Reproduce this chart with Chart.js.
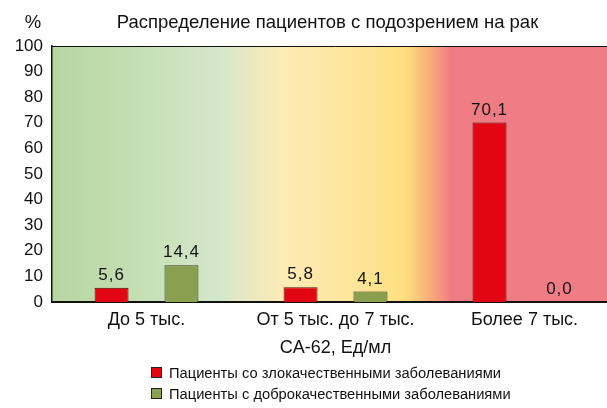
<!DOCTYPE html>
<html>
<head>
<meta charset="utf-8">
<script src="https://cdn.jsdelivr.net/npm/chart.js@4.4.1/dist/chart.umd.min.js"></script>
<style>
  html, body { margin: 0; padding: 0; overflow: hidden; background: #fff; }
  #wrap { position: relative; width: 607px; height: 408px; overflow: hidden; }
  #legend { position: absolute; left: 151px; top: 362px; font-family: "Liberation Sans", Arial, sans-serif; font-size: 14.7px; color: #111; }
  #legend div { height: 21px; line-height: 16px; display: flex; align-items: center; }
  #legend span.box { display: inline-block; width: 9px; height: 9px; border: 1px solid #222; margin-right: 7px; }
</style>
</head>
<body>
<div id="wrap">
  <canvas id="bar-chart" width="619" height="408"></canvas>
  <div id="legend"></div>
</div>
<script>
var categories = ["До 5 тыс.", "От 5 тыс. до 7 тыс.", "Более 7 тыс."];
var malignant = [5.6, 5.8, 70.1];
var benign = [14.4, 4.1, 0.0];
var seriesNames = ["Пациенты со злокачественными заболеваниями", "Пациенты с доброкачественными заболеваниями"];
var yTicks = [0, 10, 20, 30, 40, 50, 60, 70, 80, 90, 100];

var FONT = '"Liberation Sans", Arial, sans-serif';

// gradient background behind the plot + top border + heading
var backdrop = {
  id: 'backdrop',
  beforeDraw: function(chart) {
    var c = chart.ctx, a = chart.chartArea;
    var g = c.createLinearGradient(a.left, 0, 607, 0);
    var w = 607 - a.left;
    function at(x) { return (x - a.left) / w; }
    g.addColorStop(0, '#b8d6a4');
    g.addColorStop(at(110), '#c0dcad');
    g.addColorStop(at(220), '#d5e7cb');
    g.addColorStop(at(250), '#eae9c1');
    g.addColorStop(at(282), '#fdebb6');
    g.addColorStop(at(350), '#fde59c');
    g.addColorStop(at(405), '#fedf80');
    g.addColorStop(at(430), '#f8ad7b');
    g.addColorStop(at(452), '#ef7c84');
    g.addColorStop(1, '#f07d85');
    c.save();
    c.fillStyle = g;
    c.fillRect(a.left, a.top, a.right - a.left, a.bottom - a.top);
    c.strokeStyle = '#111';
    c.lineWidth = 1;
    c.beginPath();
    c.moveTo(a.left, a.top + 0.5);
    c.lineTo(a.right, a.top + 0.5);
    c.stroke();
    c.fillStyle = '#111';
    c.font = '18.5px ' + FONT;
    c.textAlign = 'center';
    c.textBaseline = 'alphabetic';
    c.fillText('%', 33, 28);
    c.fillText('Распределение пациентов с подозрением на рак', 327.5, 28);
    c.restore();
  }
};

// value labels above bars, decimal comma
var valueLabels = {
  id: 'valueLabels',
  afterDatasetsDraw: function(chart) {
    var c = chart.ctx;
    c.save();
    c.fillStyle = '#111';
    c.font = '17px ' + FONT;
    c.letterSpacing = '1px';
    c.textAlign = 'center';
    c.textBaseline = 'alphabetic';
    chart.data.datasets.forEach(function(ds, i) {
      chart.getDatasetMeta(i).data.forEach(function(bar, j) {
        c.fillText(ds.data[j].toFixed(1).replace('.', ','), bar.x, bar.y - 8);
      });
    });
    c.restore();
  }
};

var myChart = new Chart(document.getElementById('bar-chart'), {
  type: 'bar',
  data: {
    labels: categories,
    datasets: [
      {
        label: seriesNames[0],
        data: malignant,
        backgroundColor: '#e20613',
        borderColor: '#5a0a0e',
        borderWidth: 1,
        borderSkipped: 'bottom'
      },
      {
        label: seriesNames[1],
        data: benign,
        backgroundColor: '#88a04f',
        borderColor: '#343d1c',
        borderWidth: 1,
        borderSkipped: 'bottom'
      }
    ]
  },
  options: {
    responsive: false,
    animation: false,
    layout: { padding: { top: 46, left: 0, right: 0, bottom: 49 } },
    categoryPercentage: 0.74,
    barPercentage: 0.486,
    plugins: {
      legend: { display: false },
      title: { display: false },
      tooltip: { enabled: false }
    },
    scales: {
      x: {
        grid: { display: false, drawTicks: false },
        border: { display: true, color: '#111', width: 2 },
        ticks: { color: '#111', padding: 7, font: { family: FONT, size: 18 } },
        title: {
          display: true,
          text: 'CA-62, Ед/мл',
          color: '#111',
          padding: { top: 0, bottom: 0 },
          font: { family: FONT, size: 18 }
        },
        afterFit: function(axis) { axis.height = 57; }
      },
      y: {
        min: 0,
        max: 100,
        afterBuildTicks: function(axis) {
          axis.ticks = yTicks.map(function(v) { return { value: v }; });
        },
        grid: { display: false, drawTicks: false },
        border: { display: true, color: '#111', width: 1.5 },
        ticks: { color: '#111', padding: 9, font: { family: FONT, size: 17 } },
        afterFit: function(axis) { axis.width = 52; }
      }
    }
  },
  plugins: [backdrop, valueLabels]
});

var legend = document.getElementById('legend');
myChart.data.datasets.forEach(function(ds) {
  var row = document.createElement('div');
  var box = document.createElement('span');
  box.className = 'box';
  box.style.background = ds.backgroundColor;
  row.appendChild(box);
  row.appendChild(document.createTextNode(ds.label));
  legend.appendChild(row);
});
</script>
</body>
</html>
